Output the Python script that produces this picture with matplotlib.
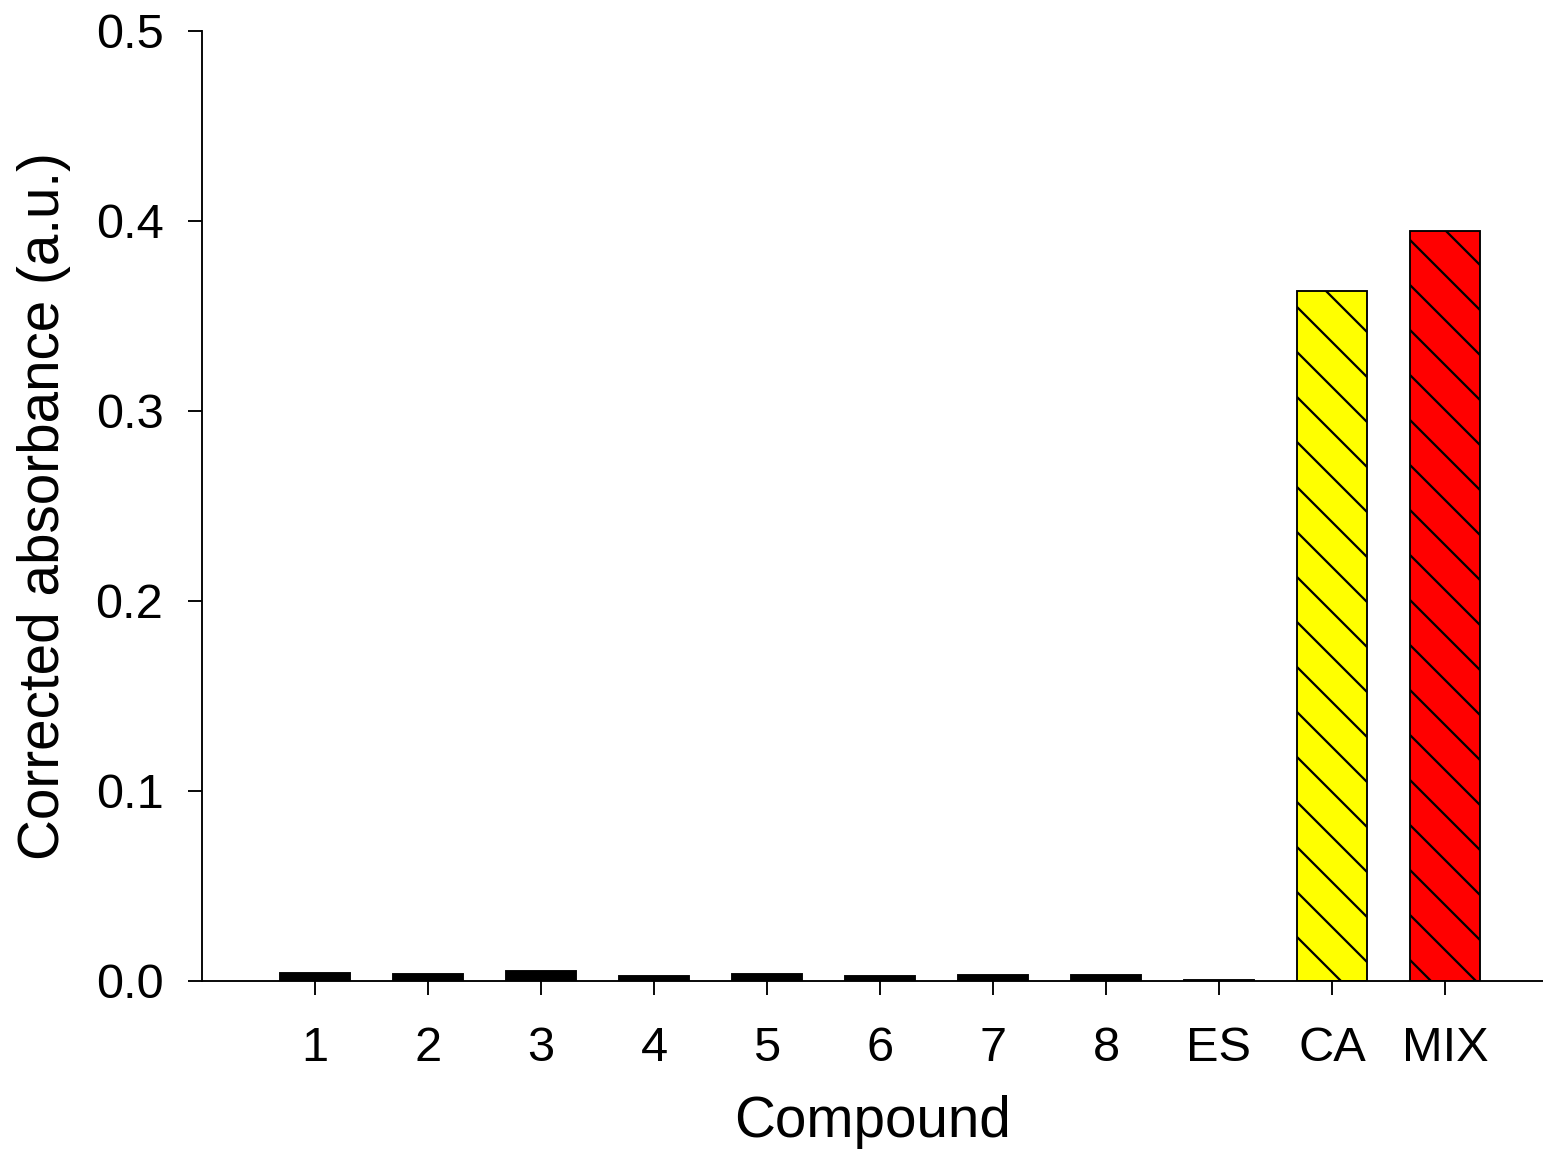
import matplotlib
matplotlib.use("Agg")
import matplotlib.pyplot as plt
import numpy as np

categories = ["1", "2", "3", "4", "5", "6", "7", "8", "ES", "CA", "MIX"]
values = [0.0044, 0.0039, 0.0053, 0.0028, 0.0039, 0.0026, 0.0033, 0.0030, 0.0003, 0.363, 0.395]
facecolors = ["black"] * 9 + ["#ffff00", "#ff0000"]
hatches = [None] * 9 + ["\\\\", "\\\\"]
yticks = [0.0, 0.1, 0.2, 0.3, 0.4, 0.5]

DPI = 270
plt.rcParams["font.family"] = ["Liberation Sans", "DejaVu Sans"]
plt.rcParams["hatch.linewidth"] = 0.6

fig = plt.figure(figsize=(1543 / DPI, 1151 / DPI), dpi=DPI)
ax = fig.add_axes([202 / 1543, 1 - 981 / 1151, 1 - 202 / 1543, (981 - 31) / 1151])

x = np.arange(1, len(categories) + 1)
for xi, v, fc, h in zip(x, values, facecolors, hatches):
    ax.bar(xi, v, width=0.615, color=fc, edgecolor="black", linewidth=0.5, hatch=h, zorder=2)

ax.set_xlim(0, 1341 / 113)
ax.set_ylim(0, 0.5)
ax.set_xticks(x)
ax.set_xticklabels(categories)
ax.set_yticks(yticks)
ax.set_yticklabels([f"{t:.1f}" for t in yticks])

for s in ["top", "right"]:
    ax.spines[s].set_visible(False)
for s in ["left", "bottom"]:
    ax.spines[s].set_linewidth(0.5)

ax.tick_params(axis="both", direction="out", length=3.7, width=0.5, labelsize=13)
ax.tick_params(axis="y", pad=6.6)
ax.tick_params(axis="x", pad=8.2)

ax.set_xlabel("Compound", fontsize=15.1, labelpad=6.6)
ax.set_ylabel("Corrected absorbance (a.u.)", fontsize=15.1, labelpad=6.4)

fig.savefig("out.png", dpi=DPI)
